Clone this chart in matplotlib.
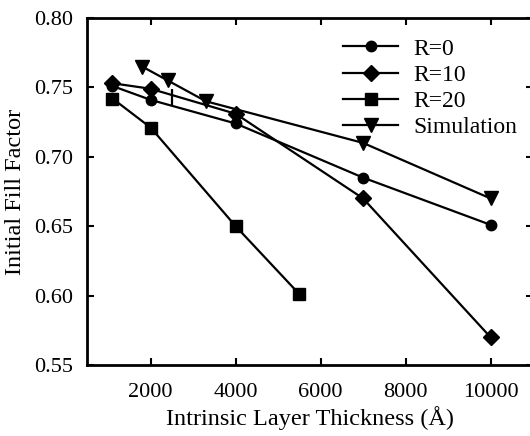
import matplotlib
matplotlib.use("Agg")
import matplotlib.pyplot as plt

plt.rcParams['font.family'] = ['Liberation Serif', 'DejaVu Serif']

r0_x = [1100, 2000, 4000, 7000, 10000]
r0_y = [0.751, 0.741, 0.724, 0.685, 0.651]
r10_x = [1100, 2000, 4000, 7000, 10000]
r10_y = [0.753, 0.749, 0.731, 0.670, 0.570]
r20_x = [1100, 2000, 4000, 5500]
r20_y = [0.742, 0.721, 0.650, 0.601]
sim_x = [1800, 2400, 3300, 7000, 10000]
sim_y = [0.765, 0.755, 0.740, 0.710, 0.670]
mark_x = [2500]
mark_y = [0.743]

xticks = [2000, 4000, 6000, 8000, 10000]
yticks = [0.55, 0.60, 0.65, 0.70, 0.75, 0.80]

fig = plt.figure(figsize=(5.30, 4.36), dpi=100)
ax = fig.add_axes([87/530, 1-365/436, (533-87)/530, (365-18)/436])

lw = 1.6
ax.plot(r0_x, r0_y, color='black', lw=lw, marker='o', ms=7.5, label='R=0')
ax.plot(r10_x, r10_y, color='black', lw=lw, marker='D', ms=8, label='R=10')
ax.plot(r20_x, r20_y, color='black', lw=lw, marker='s', ms=8.5, label='R=20')
ax.plot(sim_x, sim_y, color='black', lw=lw, marker='v', ms=10, label='Simulation')
ax.plot(mark_x, mark_y, color='black', lw=0, marker='|', ms=11, mew=1.6)

ax.set_xlim(500, 11000)
ax.set_ylim(0.55, 0.80)
ax.set_xticks(xticks)
ax.set_xticklabels([str(v) for v in xticks])
ax.set_yticks(yticks)
ax.set_yticklabels([f"{v:.2f}" for v in yticks])
ax.tick_params(direction='in', length=5, width=1.5, top=True, right=True,
               labelsize=16)
ax.tick_params(axis='y', pad=10)
ax.tick_params(axis='x', pad=13)
for s in ax.spines.values():
    s.set_linewidth(2)

ax.set_xlabel('Intrinsic Layer Thickness (Å)', fontsize=17.5, labelpad=3)
ax.set_ylabel('Initial Fill Factor', fontsize=17.5, labelpad=6)

ax.legend(loc='upper left', bbox_to_anchor=(343/530, 1-38/436),
          bbox_transform=fig.transFigure, frameon=False, fontsize=17,
          handlelength=2.33, handletextpad=0.63, labelspacing=0.2,
          borderpad=0, borderaxespad=0)

fig.savefig('out.png', dpi=100)
